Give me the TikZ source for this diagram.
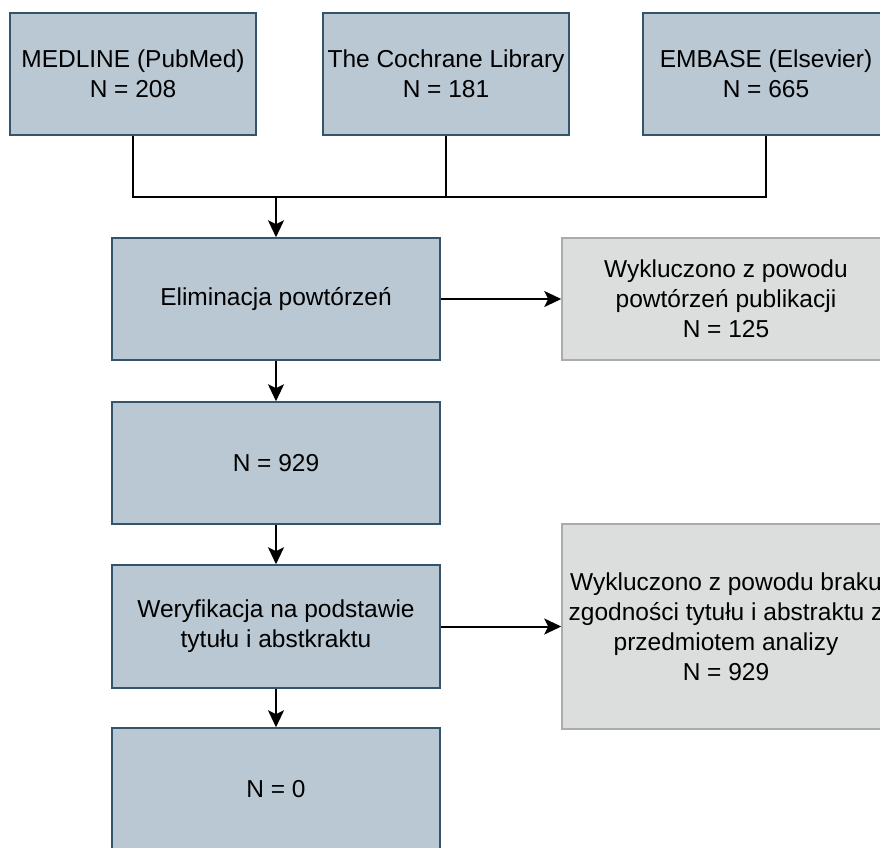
\documentclass[tikz,border=0pt]{standalone}
\usepackage{fontspec}
\setmainfont{Liberation Sans}
\usetikzlibrary{arrows.meta}
\definecolor{bfill}{HTML}{BAC8D3}
\definecolor{bdraw}{HTML}{34546C}
\definecolor{gfill}{HTML}{DCDEDD}
\definecolor{gdraw}{HTML}{ABABAB}
\begin{document}
\begin{tikzpicture}[x=1pt,y=-1pt,
  bluebox/.style={draw=bdraw,fill=bfill,line width=1.5pt,minimum width=246pt,minimum height=122pt,inner sep=0pt,align=center,font=\fontsize{24.5}{30}\selectfont},
  widebox/.style={bluebox,minimum width=328pt},
  greybox/.style={draw=gdraw,fill=gfill,line width=1.5pt,minimum width=328pt,minimum height=122pt,inner sep=0pt,align=center,font=\fontsize{24.5}{30}\selectfont},
  conn/.style={line width=2pt,black},
  arr/.style={conn,-{Stealth[length=17pt,width=16pt,inset=4pt]}}]
\useasboundingbox (0,0) rectangle (880,847);
\clip (0,0) rectangle (880,847);
\node[bluebox] (med) at (133,74) {MEDLINE (PubMed)\\N = 208};
\node[bluebox] (coch) at (446,74) {The Cochrane Library\\N = 181};
\node[bluebox] (emb) at (766,74) {EMBASE (Elsevier)\\N = 665};
\node[widebox] (elim) at (276,299) {Eliminacja powtórzeń};
\node[widebox] (n929) at (276,463) {N = 929};
\node[widebox,minimum height=123pt] (wer) at (276,626.5) {Weryfikacja na podstawie\\tytułu i abstkraktu};
\node[widebox] (n0) at (276,789) {N = 0};
\node[greybox] (ex1) at (726,299) {Wykluczono z powodu\\powtórzeń publikacji\\N = 125};
\node[greybox,minimum height=205pt] (ex2) at (726,626.5) {Wykluczono z powodu braku\\zgodności tytułu i abstraktu z\\przedmiotem analizy\\N = 929};
\coordinate (jm) at (133,197);
\coordinate (jc) at (446,197);
\coordinate (je) at (766,197);
\coordinate (ja) at (276,197);
\draw[conn] (med.south) -- (jm) -- (je) -- (emb.south);
\draw[conn] (coch.south) -- (jc);
\draw[arr] (ja) -- (elim.north);
\draw[arr] (elim.east) -- (ex1.west);
\draw[arr] (elim.south) -- (n929.north);
\draw[arr] (n929.south) -- (wer.north);
\draw[arr] (wer.east) -- (ex2.west);
\draw[arr] (wer.south) -- (n0.north);
\end{tikzpicture}
\end{document}
